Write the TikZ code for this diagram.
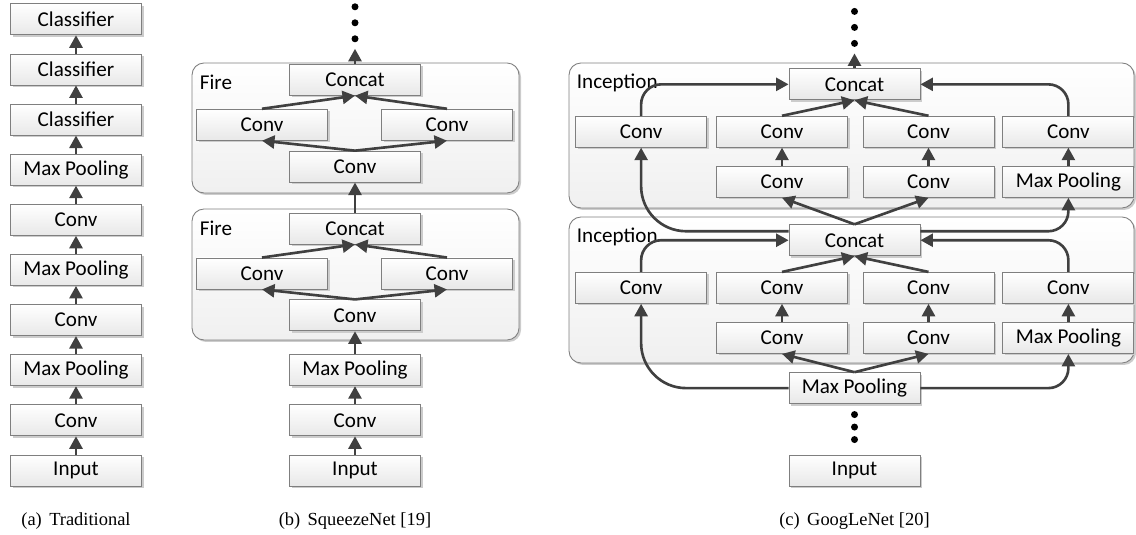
\documentclass[tikz,border=0pt]{standalone}
\usepackage{fontspec}
\setmainfont{Carlito}
\newfontfamily\capfont{Liberation Serif}
\usepackage{xcolor}
\usepackage{tikz}
\usetikzlibrary{arrows.meta,positioning,shadows}
\definecolor{linegray}{HTML}{404040}
\definecolor{edgegray}{HTML}{7F7F7F}

\begin{document}
\begin{tikzpicture}[
  node distance=0.365cm,
  box/.style={draw=edgegray, line width=0.5pt, top color=white,
    bottom color=black!9, minimum width=2.62cm, minimum height=0.62cm,
    inner sep=0pt, font=\fontsize{12}{14}\selectfont,
    drop shadow={shadow xshift=0.04cm, shadow yshift=-0.04cm,
      fill=black!20, opacity=1}},
  block/.style={draw=edgegray, line width=0.5pt, rounded corners=0.24cm,
    top color=white, bottom color=black!6, inner sep=0pt,
    drop shadow={shadow xshift=0.04cm, shadow yshift=-0.04cm,
      fill=black!20, opacity=1}},
  tag/.style={inner sep=0pt, anchor=west, font=\fontsize{12}{14}\selectfont},
  subcap/.style={inner sep=0pt, font=\capfont\fontsize{10.5}{12}\selectfont},
  arrow/.style={-{Triangle[length=0.25cm, width=0.26cm]}, draw=linegray,
    line width=1.5pt},
  bendsmall/.style={arrow, rounded corners=0.4cm},
  bendbig/.style={arrow, rounded corners=0.9cm},
  bullet/.style={fill=black}
]
\useasboundingbox (0,0) rectangle (22.72,10.68);

% containers
\node[block, minimum width=6.54cm, minimum height=2.62cm] (fireA) at (7.11,5.19) {};
\node[block, minimum width=6.54cm, minimum height=2.6cm] (fireB) at (7.11,8.12) {};
\node[block, minimum width=11.3cm, minimum height=2.92cm] (incA) at (17.03,4.88) {};
\node[block, minimum width=11.3cm, minimum height=2.9cm] (incB) at (17.03,7.97) {};
\node[tag] (tagFA) at ([xshift=0.16cm, yshift=-0.4cm]fireA.north west) {Fire};
\node[tag] (tagFB) at ([xshift=0.16cm, yshift=-0.4cm]fireB.north west) {Fire};
\node[tag] (tagIA) at ([xshift=0.16cm, yshift=-0.4cm]incA.north west) {Inception};
\node[tag] (tagIB) at ([xshift=0.16cm, yshift=-0.4cm]incB.north west) {Inception};

% (a) traditional
\node[box] (ina) at (1.52,1.27) {Input};
\node[box, above=of ina] (a1) {Conv};
\node[box, above=of a1] (a2) {Max Pooling};
\node[box, above=of a2] (a3) {Conv};
\node[box, above=of a3] (a4) {Max Pooling};
\node[box, above=of a4] (a5) {Conv};
\node[box, above=of a5] (a6) {Max Pooling};
\node[box, above=of a6] (a7) {Classifier};
\node[box, above=of a7] (a8) {Classifier};
\node[box, above=of a8] (a9) {Classifier};

% (b) squeezenet
\node[box] (inb) at (7.10,1.27) {Input};
\node[box, above=of inb] (convb) {Conv};
\node[box, above=of convb] (poolb) {Max Pooling};
\node[box, above=0.46cm of poolb] (fa0) {Conv};
\node[box, above=0.2cm of fa0, xshift=-1.86cm] (fa1) {Conv};
\node[box, above=0.2cm of fa0, xshift=1.84cm] (fa2) {Conv};
\node[box, above=1.1cm of fa0] (fa3) {Concat};
\node[box, above=0.6cm of fa3] (fb0) {Conv};
\node[box, above=0.2cm of fb0, xshift=-1.86cm] (fb1) {Conv};
\node[box, above=0.2cm of fb0, xshift=1.84cm] (fb2) {Conv};
\node[box, above=1.1cm of fb0] (fb3) {Concat};
\coordinate[above=0.3cm of fb3] (btop);

% (c) googlenet
\node[box] (inc) at (17.09,1.27) {Input};
\node[box, above=1.01cm of inc] (mpc) {Max Pooling};
\node[box, above=of mpc, xshift=-1.45cm] (lb2a) {Conv};
\node[box, above=of mpc, xshift=1.48cm] (lb2b) {Conv};
\node[box, right=0.16cm of lb2b] (lb2c) {Max Pooling};
\node[box, above=of lb2a] (lb1b) {Conv};
\node[box, left=0.18cm of lb1b] (lb1a) {Conv};
\node[box, above=of lb2b] (lb1c) {Conv};
\node[box, above=of lb2c] (lb1d) {Conv};
\node[box, above=2.32cm of mpc] (lcat) {Concat};
\node[box, above=0.53cm of lcat, xshift=-1.45cm] (ub2a) {Conv};
\node[box, above=0.53cm of lcat, xshift=1.48cm] (ub2b) {Conv};
\node[box, right=0.16cm of ub2b] (ub2c) {Max Pooling};
\node[box, above=of ub2a] (ub1b) {Conv};
\node[box, left=0.18cm of ub1b] (ub1a) {Conv};
\node[box, above=of ub2b] (ub1c) {Conv};
\node[box, above=of ub2c] (ub1d) {Conv};
\node[box, above=2.48cm of lcat] (ucat) {Concat};
\coordinate[above=0.3cm of ucat] (ctop);

% captions
\node[subcap, below=0.52cm of ina] (capa) {(a)\hspace{0.4em}Traditional};
\node[subcap, below=0.52cm of inb] (capb) {(b)\hspace{0.4em}SqueezeNet [19]};
\node[subcap, below=0.52cm of inc] (capc) {(c)\hspace{0.4em}GoogLeNet [20]};

% arrows (a)
\draw[arrow] (ina) -- (a1);
\draw[arrow] (a1) -- (a2);
\draw[arrow] (a2) -- (a3);
\draw[arrow] (a3) -- (a4);
\draw[arrow] (a4) -- (a5);
\draw[arrow] (a5) -- (a6);
\draw[arrow] (a6) -- (a7);
\draw[arrow] (a7) -- (a8);
\draw[arrow] (a8) -- (a9);

% arrows (b)
\draw[arrow] (inb) -- (convb);
\draw[arrow] (convb) -- (poolb);
\draw[arrow] (poolb) -- (fa0);
\draw[arrow] (fa0.north) -- (fa1.south);
\draw[arrow] (fa0.north) -- (fa2.south);
\draw[arrow] (fa1.north) -- (fa3.south);
\draw[arrow] (fa2.north) -- (fa3.south);
\draw[arrow] (fa3) -- (fb0);
\draw[arrow] (fb0.north) -- (fb1.south);
\draw[arrow] (fb0.north) -- (fb2.south);
\draw[arrow] (fb1.north) -- (fb3.south);
\draw[arrow] (fb2.north) -- (fb3.south);
\draw[arrow] (fb3) -- (btop);
\foreach \k in {1,2,3}
  \fill[bullet] ([yshift=\k*0.32cm-0.12cm]btop) circle (0.07cm);

% arrows (c)
\draw[arrow] (mpc.north) -- (lb2a.south);
\draw[arrow] (mpc.north) -- (lb2b.south);
\draw[bendbig] (mpc.west) -| (lb1a.south);
\draw[bendsmall] (mpc.east) -| (lb2c.south);
\draw[arrow] (lb2a) -- (lb1b);
\draw[arrow] (lb2b) -- (lb1c);
\draw[arrow] (lb2c) -- (lb1d);
\draw[arrow] (lb1b.north) -- (lcat.south);
\draw[arrow] (lb1c.north) -- (lcat.south);
\draw[bendsmall] (lb1a.north) |- (lcat.west);
\draw[bendsmall] (lb1d.north) |- (lcat.east);
\draw[arrow] (lcat.north) -- (ub2a.south);
\draw[arrow] (lcat.north) -- (ub2b.south);
\draw[bendbig] ([yshift=0.18cm]lcat.west) -| (ub1a.south);
\draw[bendsmall] ([yshift=0.18cm]lcat.east) -| (ub2c.south);
\draw[arrow] (ub2a) -- (ub1b);
\draw[arrow] (ub2b) -- (ub1c);
\draw[arrow] (ub2c) -- (ub1d);
\draw[arrow] (ub1b.north) -- (ucat.south);
\draw[arrow] (ub1c.north) -- (ucat.south);
\draw[bendsmall] (ub1a.north) |- (ucat.west);
\draw[bendsmall] (ub1d.north) |- (ucat.east);
\draw[arrow] (ucat) -- (ctop);
\foreach \k in {1,2,3}
  \fill[bullet] ([yshift=\k*0.32cm-0.12cm]ctop) circle (0.07cm);
\foreach \k in {1,2,3}
  \fill[bullet] ([yshift=-\k*0.25cm+0.04cm]mpc.south) circle (0.07cm);

\end{tikzpicture}
\end{document}
